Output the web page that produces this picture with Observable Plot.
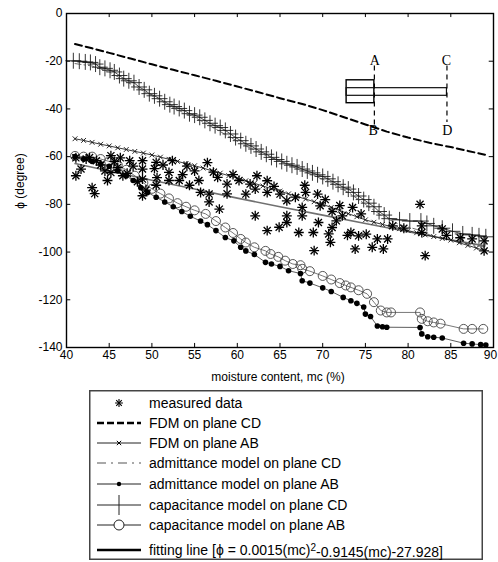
<!DOCTYPE html>
<html><head><meta charset="utf-8">
<script src="https://cdn.jsdelivr.net/npm/d3@7"></script>
<script src="https://cdn.jsdelivr.net/npm/@observablehq/plot@0.6"></script>
<style>
body{margin:0;background:#fff;}
#wrap{position:relative;width:498px;height:562px;background:#fff;font-family:"Liberation Sans",Arial,sans-serif;overflow:hidden;}
#chart{position:absolute;left:0;top:0;}
.lab{position:absolute;font-size:12px;color:#000;white-space:nowrap;}
#xlab{left:278px;top:377px;transform:translate(-50%,-50%);}
#ylab{left:20px;top:181px;transform:translate(-50%,-50%) rotate(-90deg);}
#legend{position:absolute;left:89px;top:390px;}
</style></head><body>
<div id="wrap"><div id="chart"></div>
<div class="lab" id="xlab">moisture content, mc (%)</div>
<div class="lab" id="ylab">ϕ (degree)</div>
<div id="legend"></div>
</div>
<script>
const xTicks = [40,45,50,55,60,65,70,75,80,85,90];
const yTicks = [0,-20,-40,-60,-80,-100,-120,-140];

const measured = [[41.1,-60.5],[41.1,-68],[41.7,-65.2],[42.3,-61],[42.7,-60.4],[43,-73],[43.3,-75.5],[43.5,-61.7],[44,-63.5],[44.5,-66],[44.8,-70],[45.2,-59.6],[45.2,-66.7],[45.6,-62],[46,-64.5],[46.3,-60.5],[46.6,-68],[47.1,-67],[47.4,-61.7],[47.8,-64],[48.3,-70.5],[48.9,-61.7],[48.9,-65.2],[48.9,-69.4],[48.9,-76.4],[49.3,-74],[50.3,-65],[50.5,-62.4],[50.5,-72],[50.6,-68.8],[51.3,-63.5],[52,-66.6],[52,-70],[52.4,-61.7],[53.2,-70],[53.6,-67.5],[54.1,-64],[54.4,-72],[55,-66],[55.5,-70],[55.7,-75],[56.5,-62.5],[56.7,-75.7],[56.7,-79],[57.2,-66.5],[57.7,-68.7],[57.9,-82],[58.8,-71.5],[58.8,-75.6],[59.5,-67.5],[60.2,-70],[61,-75.7],[61.5,-71.5],[62.1,-73.6],[62.1,-84.8],[62.3,-68],[63.5,-70.1],[63.5,-75],[63.5,-91],[64.3,-72.5],[64.9,-89.6],[65,-75.7],[65.8,-78.5],[65.8,-84.8],[65.8,-87.6],[66.8,-77],[67.2,-91.8],[67.6,-81.3],[67.6,-84.8],[67.9,-72],[68,-75],[68.9,-91.8],[69,-99.4],[69.4,-75.7],[69.5,-87.6],[69.7,-80.6],[70.3,-78],[70.7,-92.4],[70.9,-95.9],[71.1,-83],[71.1,-89.7],[71.6,-86.9],[72,-80.5],[72.3,-84.8],[72.9,-93],[73.3,-91.8],[73.5,-81.3],[73.8,-98.7],[74.2,-93.2],[74.5,-84],[75.1,-92.5],[75.8,-98],[76.4,-94.5],[77.1,-98.7],[77.6,-94.5],[78.2,-89],[79.5,-90],[81.4,-80],[81.6,-89],[81.6,-91.8],[82,-101.5],[84,-90.3],[84.5,-93],[86.1,-94],[87.5,-94.5],[88.9,-95.3],[88.9,-99.5]];

const fdmCD = [[41,-12.8],[43,-14.6],[45,-16.5],[47.5,-18.9],[50,-21.3],[52.5,-23.6],[55,-25.9],[57.5,-28.2],[60,-30.6],[62.5,-33],[65,-35.5],[67.5,-37.8],[70,-40.5],[72.5,-43.5],[75,-46.5],[77.5,-49.5],[80,-52],[82.5,-54.2],[85,-56],[87,-57.6],[89,-59.2]];

const fdmAB = [[41,-52.5],[42,-53.2],[43,-54],[44,-54.8],[45,-55.5],[46,-56.3],[47,-57],[48,-57.8],[49,-58.5],[50,-59.3],[51,-60.2],[52,-61.1],[53,-62],[54,-62.9],[55,-63.8],[56,-64.8],[57,-65.9],[58,-66.9],[59,-68],[60,-69],[61,-70.1],[62,-71.2],[63,-72.3],[64,-73.4],[65,-74.5],[66,-75.6],[67,-76.7],[68,-77.8],[69,-78.9],[70,-80],[71,-81.3],[72,-82.6],[73,-83.9],[74,-85.2],[75,-86.5],[76,-87.5],[77,-88.4],[78,-89.3],[79,-90.2],[80,-91],[81,-91.9],[82,-92.8],[83,-93.5],[84,-94.3],[85,-95],[86,-96.1],[87,-97.2],[88,-98.3],[89,-99.5]];

const admCD = [[41,-21],[43,-22],[45,-24.5],[47,-28.5],[49,-32.5],[51,-36.5],[53,-40.5],[55,-43.5],[57,-47.5],[59,-51.5],[61,-55.5],[63,-59],[65,-62],[67,-65],[69,-68],[71,-71],[73,-75],[75,-80],[77,-85],[79,-88.5],[81,-90.5],[83,-93.5],[85,-95],[87,-96.5],[89,-98]];

const admAB = [[41,-60],[42,-61],[43,-62],[44,-63],[45,-64],[46,-66],[47,-68],[47.8,-70],[48.7,-73],[49.5,-75],[50.5,-77],[51.5,-79],[52.5,-81],[53.5,-83],[54.5,-85],[55.7,-87],[56.5,-88.5],[57.5,-91],[58.6,-93.9],[59.6,-95.3],[60.4,-98],[61,-99.5],[62,-101],[63.3,-104.3],[64,-105],[65,-106],[66,-107.8],[67.4,-109],[67.6,-112],[68.5,-113],[70,-115],[71,-116.5],[72.4,-119],[73.3,-120.4],[74,-121.5],[74.8,-123],[75,-126],[75.6,-127],[76.4,-131],[77,-131.3],[77.5,-131.5],[81.4,-131.6],[81.6,-134.3],[82.3,-135.5],[83,-135.7],[84,-136],[86.5,-138.2],[87.5,-138.5],[88.5,-138.8],[89.1,-139]];

const capCD = [[40.8,-19.8],[41.5,-20],[42.2,-20.3],[42.8,-20.5],[43.4,-21.2],[43.9,-22.5],[44.5,-23],[45.1,-23.8],[45.6,-24.5],[46.2,-26],[46.7,-27.3],[47.3,-28.2],[47.9,-29],[48.5,-30.8],[49.1,-32],[49.7,-33.6],[50.3,-34.5],[50.9,-35.7],[51.5,-37],[52.1,-38.2],[52.6,-39],[53.2,-39.8],[53.8,-40.7],[54.4,-42],[55,-42.6],[55.6,-43.5],[56.2,-44.8],[56.8,-46],[57.4,-47],[58,-47.8],[58.6,-49],[59.2,-50.5],[59.8,-52],[60.4,-53.3],[61,-54.6],[61.6,-55.5],[62.2,-56.8],[62.8,-58],[63.4,-59],[64,-60.3],[64.6,-61.2],[65.2,-62],[65.8,-63],[66.4,-63.6],[67,-64.3],[67.6,-65.2],[68.2,-66],[68.8,-66.8],[69.4,-67.6],[70,-68.3],[70.6,-69.3],[71.2,-70.5],[71.8,-71.6],[72.4,-72.8],[73,-73.6],[73.6,-75],[74.2,-76.5],[74.8,-78],[75.4,-79.5],[76,-81],[76.6,-83],[77.2,-84.5],[77.8,-86],[79,-86.5],[80.2,-87],[81.5,-87],[82.2,-88],[83,-89],[84,-90],[85.2,-91.3],[86.4,-92.4],[87.5,-92.8],[88.3,-93.2],[89.1,-93.6]];

const capAB = [[41,-59.7],[42,-60],[43,-60],[44,-61],[45,-62],[46,-63.5],[47,-65.5],[48,-68],[49,-71],[50,-73.5],[51,-75.5],[52,-77.5],[53,-79.5],[54,-81],[55,-82.5],[56.3,-84],[57.5,-87],[58.6,-89.7],[59.5,-92],[60.4,-94.5],[61,-96],[62,-98],[63.3,-99.5],[63.9,-100.8],[64.8,-102],[65.6,-103.6],[66.5,-105],[67.4,-105.5],[67.6,-107],[68.5,-108],[70,-110],[71,-111.5],[72,-113],[72.7,-114],[73.3,-114.8],[74.2,-116],[75.2,-117.5],[76,-121],[76.8,-124.5],[77.5,-125.3],[78,-125.3],[81.4,-125.3],[81.6,-128],[82.3,-129],[83,-129.5],[83.8,-130],[86.5,-132.2],[87.5,-132.2],[88.8,-132.2]];

const fitting = [[41,-62.9],[45,-66],[50,-69.9],[55,-73.6],[60,-77.4],[65,-81],[70,-84.5],[75,-88],[80,-91.5],[85,-94.8],[89,-97.4]];

// inset schematic (sample geometry, in axis units)
const schemBox = [{x1:72.8, x2:76.05, y1:-28, y2:-37.6}];
const schemBar = [{x1:72.8, x2:84.55, y1:-31.3, y2:-34.5}];
const schemPlanes = [{x:76.05, y1:-22, y2:-47}, {x:84.55, y1:-22, y2:-45.7}];
const schemLabels = [{t:"A", x:76.1, y:-19.6}, {t:"B", x:75.9, y:-48.9}, {t:"C", x:84.5, y:-19.6}, {t:"D", x:84.6, y:-48.9}];

const legendLabels = ["measured data","FDM on plane CD","FDM on plane AB","admittance model on plane CD","admittance model on plane AB","capacitance model on plane CD","capacitance model on plane AB","fitting line [ϕ = 0.0015(mc)"];

const X = d => d[0], Y = d => d[1];
const xTicksInner = xTicks.slice(0, -1), xTicksLast = xTicks.slice(-1);

const chart = Plot.plot({
  width: 498, height: 366,
  marginLeft: 66, marginRight: 5, marginTop: 13, marginBottom: 19,
  x: {domain: [40, 90], label: null},
  y: {domain: [-140, 0], label: null},
  style: {fontFamily: "Liberation Sans, Arial, sans-serif", fontSize: "12px", background: "#fff", color: "#000"},
  marks: [
    // inward ticks on all four sides
    Plot.ruleX(xTicks, {x: d => d, y1: -140, y2: -138.3, stroke: "#000"}),
    Plot.ruleX(xTicks, {x: d => d, y1: 0, y2: -1.7, stroke: "#000"}),
    Plot.ruleY(yTicks, {y: d => d, x1: 40, x2: 40.5, stroke: "#000"}),
    Plot.ruleY(yTicks, {y: d => d, x1: 90, x2: 89.5, stroke: "#000"}),
    Plot.axisX({ticks: xTicksInner, tickSize: 0, tickPadding: 3, label: null, tickFormat: d => String(d)}),
    Plot.axisX({ticks: xTicksLast, tickSize: 0, tickPadding: 3, label: null, dx: -3, tickFormat: d => String(d)}),
    Plot.axisY({ticks: yTicks, tickSize: 0, tickPadding: 4, label: null, tickFormat: d => String(d)}),
    // fitting line
    Plot.line(fitting, {x: X, y: Y, stroke: "#707070", strokeWidth: 1.6}),
    // FDM CD
    Plot.line(fdmCD, {x: X, y: Y, stroke: "#000", strokeWidth: 2, strokeDasharray: "7,4"}),
    // capacitance CD
    Plot.line(capCD, {x: X, y: Y, stroke: "#222", strokeWidth: 0.8}),
    Plot.dot(capCD, {x: X, y: Y, symbol: "plus", r: 5.2, stroke: "#111", strokeWidth: 0.85}),
    // admittance CD
    Plot.line(admCD, {x: X, y: Y, stroke: "#444", strokeWidth: 0.8, strokeDasharray: "6,3,1.5,3"}),
    // FDM AB
    Plot.line(fdmAB, {x: X, y: Y, stroke: "#222", strokeWidth: 0.9}),
    Plot.dot(fdmAB, {x: X, y: Y, symbol: "times", r: 2.3, stroke: "#111", strokeWidth: 0.9}),
    // capacitance AB
    Plot.line(capAB, {x: X, y: Y, stroke: "#555", strokeWidth: 0.8}),
    Plot.dot(capAB, {x: X, y: Y, symbol: "circle", r: 4.5, fill: "none", stroke: "#444", strokeWidth: 0.9}),
    // admittance AB
    Plot.line(admAB, {x: X, y: Y, stroke: "#333", strokeWidth: 0.8}),
    Plot.dot(admAB, {x: X, y: Y, symbol: "circle", r: 2.8, fill: "#000", stroke: "none"}),
    // measured data (8-armed asterisk)
    Plot.dot(measured, {x: X, y: Y, symbol: "plus", r: 3.3, stroke: "#000", strokeWidth: 1.3}),
    Plot.dot(measured, {x: X, y: Y, symbol: "times", r: 3.3, stroke: "#000", strokeWidth: 1.3}),
    // inset schematic
    Plot.rect(schemBox, {x1: "x1", x2: "x2", y1: "y1", y2: "y2", fill: "none", stroke: "#000", strokeWidth: 1.4}),
    Plot.rect(schemBar, {x1: "x1", x2: "x2", y1: "y1", y2: "y2", fill: "none", stroke: "#111", strokeWidth: 1.2}),
    Plot.ruleX(schemPlanes, {x: "x", y1: "y1", y2: "y2", stroke: "#000", strokeWidth: 1.2, strokeDasharray: "5,4"}),
    Plot.text(schemLabels, {x: "x", y: "y", text: "t", fontFamily: "Liberation Serif, Times New Roman, serif", fontSize: 14, fill: "#000"}),
    Plot.frame({stroke: "#000", strokeWidth: 1.4})
  ]
});
document.getElementById("chart").appendChild(chart);

// legend box
const LW = 394, LH = 170;
const L = d3.select("#legend").append("svg").attr("width", LW).attr("height", LH)
  .style("font-family", "Liberation Sans, Arial, sans-serif");
L.append("rect").attr("x", 0.75).attr("y", 0.75).attr("width", LW - 1.5).attr("height", LH - 1.5)
  .attr("fill", "#fff").attr("stroke", "#444").attr("stroke-width", 1.5);
const rowY = [13, 33, 53, 73, 94, 115, 135, 160];
const sx0 = 8, sx1 = 52, sc = 30, tx = 60;
rowY.forEach((cy, i) => {
  const g = L.append("g");
  const line = (dash, w, col) => g.append("line").attr("x1", sx0).attr("x2", sx1).attr("y1", cy).attr("y2", cy)
    .attr("stroke", col || "#000").attr("stroke-width", w).attr("stroke-dasharray", dash || null);
  if (i === 0) {
    g.append("path").attr("d", d3.symbol(d3.symbolPlus, 22)()).attr("transform", `translate(${sc},${cy})`).attr("stroke", "#000").attr("stroke-width", 1.1).attr("fill", "none");
    g.append("path").attr("d", d3.symbol(d3.symbolTimes, 22)()).attr("transform", `translate(${sc},${cy})`).attr("stroke", "#000").attr("stroke-width", 1.1).attr("fill", "none");
  } else if (i === 1) {
    line("7,3", 2.5);
  } else if (i === 2) {
    line(null, 1, "#222");
    g.append("path").attr("d", d3.symbol(d3.symbolTimes, 14)()).attr("transform", `translate(${sc},${cy})`).attr("stroke", "#000").attr("stroke-width", 1).attr("fill", "none");
  } else if (i === 3) {
    line("9,5,2,5", 1.2, "#555");
  } else if (i === 4) {
    line(null, 1, "#222");
    g.append("circle").attr("cx", sc).attr("cy", cy).attr("r", 2.2).attr("fill", "#000");
  } else if (i === 5) {
    line(null, 1, "#222");
    g.append("line").attr("x1", sc).attr("x2", sc).attr("y1", cy - 10).attr("y2", cy + 10).attr("stroke", "#222").attr("stroke-width", 1);
  } else if (i === 6) {
    line(null, 1, "#222");
    g.append("circle").attr("cx", sc).attr("cy", cy).attr("r", 5).attr("fill", "#fff").attr("stroke", "#222").attr("stroke-width", 1);
  } else if (i === 7) {
    line(null, 2.6, "#000");
  }
  const t = g.append("text").attr("x", tx).attr("y", cy).attr("dy", "0.36em").attr("font-size", 14).attr("fill", "#000").text(legendLabels[i]);
  if (i === 7) {
    t.append("tspan").attr("dy", "-0.45em").attr("font-size", 10).text("2");
    t.append("tspan").attr("dy", "0.45em").text("-0.9145(mc)-27.928]");
  }
});
</script>
</body></html>
